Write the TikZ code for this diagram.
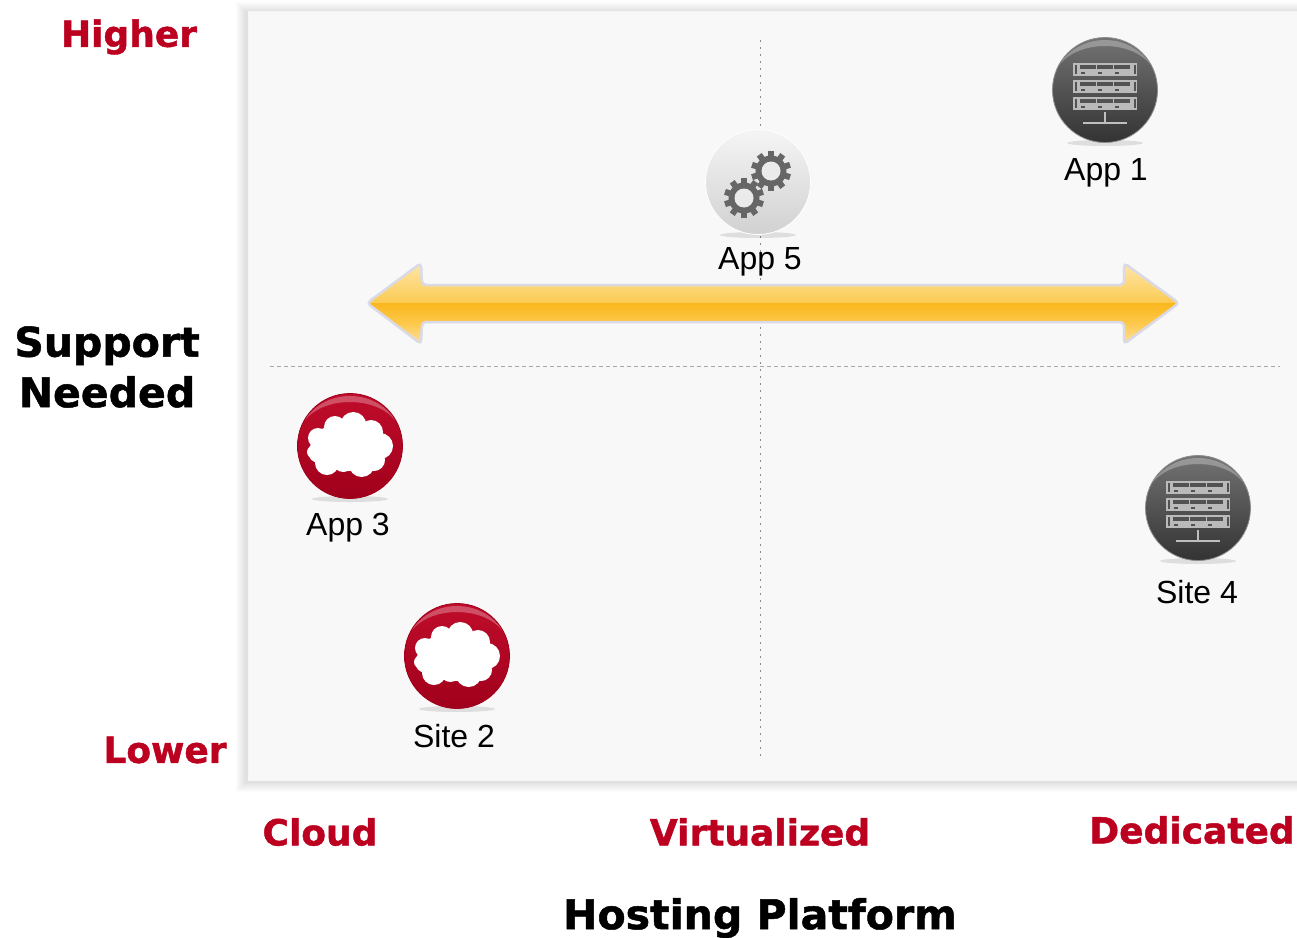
\documentclass[tikz,border=0pt]{standalone}
\usepackage{fontspec}
\setmainfont{Liberation Sans}
\setsansfont{DejaVu Sans}[BoldFeatures={FakeBold=1.2}]
\usetikzlibrary{positioning}
\definecolor{hostred}{HTML}{BC0020}
\definecolor{panelgrey}{HTML}{F8F8F8}
\definecolor{arrowline}{HTML}{DADAE6}
\definecolor{bandA}{HTML}{FDE0A0}
\definecolor{bandB}{HTML}{FDC748}
\definecolor{bandC}{HTML}{FAB71C}
\definecolor{bandD}{HTML}{FCCB55}
\definecolor{bandE}{HTML}{FDE6A8}
\pgfdeclareverticalshading{bandarrow}{100bp}{%
  color(0bp)=(bandA);
  color(25bp)=(bandA);
  color(38.6bp)=(bandB);
  color(50.6bp)=(bandC);
  color(50.9bp)=(bandD);
  color(75bp)=(bandE);
  color(100bp)=(bandE)}
\tikzset{
  applabel/.style={font=\fontsize{32}{32}\selectfont,text=black,inner sep=0pt},
  levellabel/.style={font=\sffamily\bfseries\fontsize{36}{36}\selectfont,text=hostred,inner sep=0pt},
  titlelabel/.style={font=\sffamily\bfseries\fontsize{41}{50.5}\selectfont,text=black,inner sep=0pt,align=center},
  guideV/.style={dash pattern=on 1.5pt off 5.5pt,line width=1pt,black!45},
  guideH/.style={dash pattern=on 4pt off 3pt,line width=0.8pt,black!35},
  pics/btnbase/.style n args={3}{code={
    \fill[black,opacity=0.1] (0,53) ellipse (38 and 3);
    \shade[top color=#1,bottom color=#2,draw=#3,line width=0.8pt] (0,0) circle (52.5);
  }},
  pics/btnshine/.style={code={
    \fill[white,opacity=0.28] (-45,-26) .. controls (-25,-58) and (25,-58) .. (45,-26)
      .. controls (25,-50) and (-25,-50) .. (-45,-26);
  }},
  pics/racks/.style={code={
    \foreach \rackY in {-27,-10,7}{
      \fill[black!27] (-32,\rackY) rectangle (32,\rackY+13);
      \foreach \slotX in {-25,-8,9}{
        \fill[black!68] (\slotX,\rackY+2) rectangle (\slotX+16,\rackY+6);
        \fill[black!68] (\slotX+1,\rackY+8.5) rectangle (\slotX+5,\rackY+10.5);
      }
      \fill[black!68] (-30.5,\rackY+2) rectangle (-28.5,\rackY+11);
      \fill[black!68] (28.5,\rackY+2) rectangle (30.5,\rackY+11);
    }
    \draw[black!25,line width=1.2pt] (0,22) -- (0,33);
    \draw[black!25,line width=1.2pt] (-22,33) -- (22,33);
  }},
  pics/cloudy/.style={code={
    \fill[white] (0,0) ellipse (38 and 25);
    \foreach \cx/\cy/\cr in {-15/-19/11,3.3/-21/13,21/-14/12,30/0/13,24/14/11,
      11.7/18/13,-6.7/16/10,-23/17/12,-31/6/11,-32/-8/10,-37/6/6}
      \fill[white] (\cx,\cy) circle (\cr);
  }},
  pics/cog/.style={code={
    \fill[black!60] (0,0) circle (15.5);
    \foreach \toothA in {0,36,...,324}
      \fill[black!60,rotate=\toothA] (-3,-20) rectangle (3,-12);
    \fill[black!8] (0,0) circle (9.5);
  }}
}
\begin{document}
\begin{tikzpicture}[x=1pt,y=-1pt]
\useasboundingbox (0,0) rectangle (1297,937);
%
\fill[white] (0,0) rectangle (1297,937);
\foreach \blurA in {0,...,9}
  \fill[black,opacity=0.01] (236+\blurA,2+\blurA) rectangle (1297,792-\blurA);
\fill[panelgrey,draw=black!4,line width=0.8pt] (248,11) rectangle (1298,780);
%
\coordinate (vtop) at (760,40);
\coordinate (vbot) at (760,760);
\coordinate (hleft) at (270,366);
\coordinate (hright) at (1280,366);
\draw[guideV] (vtop) -- (vbot);
\draw[guideH] (hleft) -- (hright);
%
\shade[shading=bandarrow,draw=arrowline,line width=2.5pt,rounded corners=4pt]
  (367,303) -- (421,263) -- (422,285) -- (1124,285) -- (1124,263) -- (1179,303)
  -- (1124,344) -- (1124,322) -- (422,322) -- (421,344) -- cycle;
%
\pic at (1105,90) {btnbase={black!55}{black!80}{black!45}};
\pic at (1105,90) {btnshine};
\pic at (1105,90) {racks};
\pic at (1198,508) {btnbase={black!55}{black!80}{black!45}};
\pic at (1198,508) {btnshine};
\pic at (1198,508) {racks};
%
\pic at (350,446) {btnbase={hostred!95!white}{hostred!85!black}{hostred!85!black}};
\pic at (350,446) {btnshine};
\pic at (350,446) {cloudy};
\pic at (457,656) {btnbase={hostred!95!white}{hostred!85!black}{hostred!85!black}};
\pic at (457,656) {btnshine};
\pic at (457,656) {cloudy};
%
\pic at (758,182) {btnbase={black!4}{black!18}{white}};
\pic at (771,171) {cog};
\pic at (744,198) {cog};
%
\node[applabel] (app1) at (1106,172.5) {App 1};
\node[applabel] (app5) at (760,262) {App 5};
\node[applabel] (app3) at (348,527.5) {App 3};
\node[applabel] (site4) at (1197,592) {Site 4};
\node[applabel] (site2) at (454,736) {Site 2};
%
\node[levellabel] (higher) at (129,37) {Higher};
\node[levellabel] (lower) at (165,750) {Lower};
\node[levellabel] (cloud) at (320,832) {Cloud};
\node[levellabel] (virt) at (760,832) {Virtualized};
\node[levellabel] (dedicated) at (1192,830) {Dedicated};
%
\node[titlelabel] (support) at (107,367) {Support\\Needed};
\node[titlelabel,font=\sffamily\bfseries\fontsize{41}{50}\selectfont] (hosting) at (760,918) {Hosting Platform};
\end{tikzpicture}
\end{document}
